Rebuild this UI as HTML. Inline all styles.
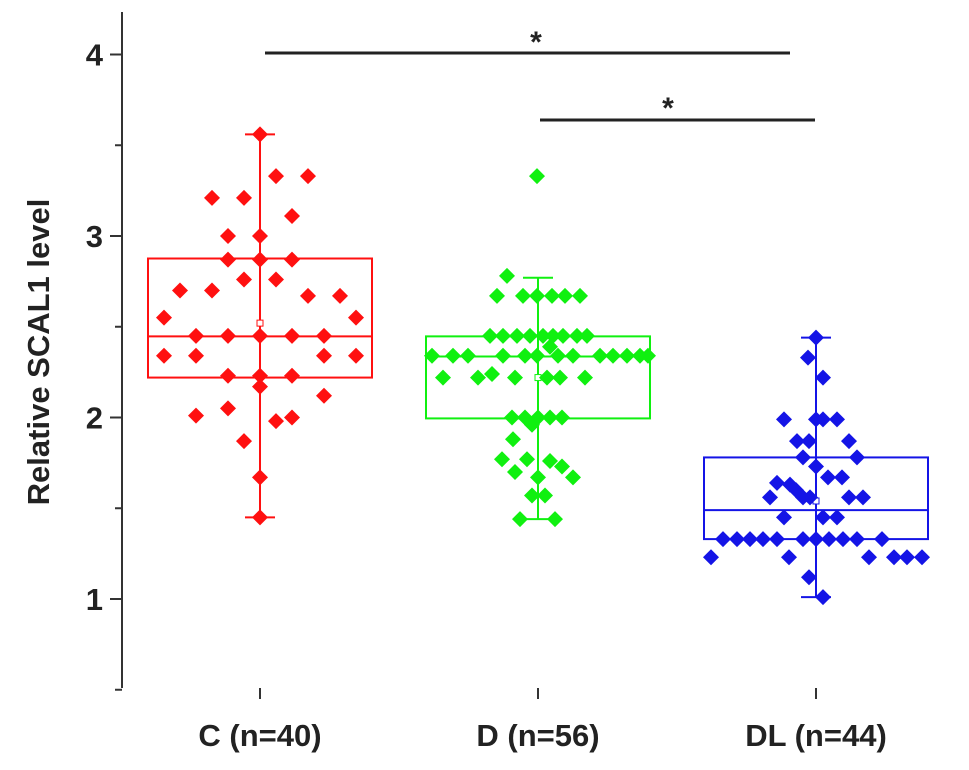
<!DOCTYPE html>
<html><head><meta charset="utf-8"><style>
body{margin:0;background:#fff;}
svg text{font-family:"Liberation Sans",Arial,sans-serif;font-weight:bold;fill:#222;}
</style></head><body>
<svg id="chart" width="969" height="765" viewBox="0 0 969 765" xmlns="http://www.w3.org/2000/svg">
<g id="axes"></g>
<g id="marks"></g>
<text x="0" y="0" transform="translate(49,352) rotate(-90)" text-anchor="middle" font-size="31">Relative SCAL1 level</text>
</svg>
<script>
const categories = ["C (n=40)", "D (n=56)", "DL (n=44)"];
const yTicks = [1, 2, 3, 4];
const yTickLabels = ["1", "2", "3", "4"];
const valsC = [3.56,3.33,3.33,3.21,3.21,3.11,3.0,3.0,2.87,2.87,2.87,2.76,2.76,2.70,2.70,2.67,2.67,2.55,2.55,2.45,2.45,2.45,2.45,2.45,2.34,2.34,2.34,2.34,2.23,2.23,2.23,2.17,2.12,2.01,2.05,1.98,2.0,1.87,1.67,1.45];
const jitC = [0,0.5,1.5,-1.5,-0.5,1,-1,0,-1,0,1,-0.5,0.5,-2.5,-1.5,1.5,2.5,-3,3,-2,-1,0,1,2,-3,-2,2,3,-1,0,1,0,2,-2,-1,0.5,1,-0.5,0,0];
const valsD = [3.33,2.78,2.67,2.67,2.67,2.67,2.67,2.67,2.45,2.45,2.45,2.45,2.45,2.45,2.45,2.45,2.39,2.34,2.34,2.34,2.34,2.34,2.34,2.34,2.34,2.34,2.34,2.34,2.34,2.22,2.22,2.24,2.22,2.22,2.22,2.22,2.0,2.0,2.0,2.0,1.96,1.88,1.77,1.77,1.76,1.73,1.67,1.70,1.67,1.57,1.57,1.44,1.44,2.34,2.45,2.0];
const jitD = [-1,-31,-41,-15,-1,14,27,42,-48,-35,-21,-8,5,25,39,49,12,-106,-85,-70,-35,-13,-1,35,62,75,89,102,110,-95,-60,-46,-23,9,22,47,-13,0,12,24,-6,-25,-36,-11,12,24,35,-23,0,-6,7,-18,17,20,15,-26];
const valsDL = [2.44,2.33,2.22,1.99,1.99,1.99,1.99,1.87,1.87,1.87,1.78,1.78,1.73,1.67,1.67,1.64,1.63,1.60,1.56,1.56,1.56,1.56,1.56,1.45,1.45,1.45,1.33,1.33,1.33,1.33,1.33,1.33,1.33,1.33,1.33,1.33,1.33,1.23,1.23,1.23,1.23,1.23,1.23,1.12,1.01];
const jitDL = [0,-8,7,-32,0,7,21,-19,-7,33,-13,41,0,12,26,-39,-26,-20,-46,-13,-6,33,47,-32,7,21,-93,-79,-66,-53,-39,-13,0,13,27,41,66,-105,-27,53,78,91,106,-7,7];
const boxQ1 = [2.22, 1.995, 1.33];
const boxMed = [2.447, 2.336, 1.49];
const boxQ3 = [2.876, 2.447, 1.78];
const whiskLo = [1.45, 1.44, 1.01];
const whiskHi = [3.56, 2.77, 2.44];
const means = [2.52, 2.22, 1.54];

const colors = ["#ff1010", "#10f010", "#1414e6"];
const groups = [[valsC, jitC, 32], [valsD, jitD, 1], [valsDL, jitDL, 1]];
const NS = "http://www.w3.org/2000/svg";
function y(v){ return 599 - (v - 1) * 181.5; }
function x(i){ return 260 + i * 278; }
function mk(tag, attrs, parent){ const e=document.createElementNS(NS,tag); for(const k in attrs) e.setAttribute(k, attrs[k]); parent.appendChild(e); return e; }
const axes=document.getElementById('axes'), marks=document.getElementById('marks');

let e = mk('line',{x1:122,y1:12,x2:122,y2:688,stroke:'#333','stroke-width':2},axes);


yTicks.forEach((t,i)=>{
  let tk = mk('line',{x1:110,y1:y(t),x2:122,y2:y(t),stroke:'#333','stroke-width':2},axes);
  
  
  let mn = mk('line',{x1:115,y1:y(t-0.5),x2:122,y2:y(t-0.5),stroke:'#333','stroke-width':2},axes);
  
  
  let lb = mk('text',{x:103,y:y(t)+11,'text-anchor':'end','font-size':31},axes);
  lb.textContent = yTickLabels[i];
  
  
});
categories.forEach((c,i)=>{
  let tk = mk('line',{x1:x(i),y1:688,x2:x(i),y2:699,stroke:'#333','stroke-width':2},axes);
  
  
  let lb = mk('text',{x:x(i),y:746,'text-anchor':'middle','font-size':31},axes);
  lb.textContent = c;
  
  
});

groups.forEach((g,i)=>{
  const col = colors[i], cx = x(i);
  let w = mk('line',{x1:cx,y1:y(whiskLo[i]),x2:cx,y2:y(whiskHi[i]),stroke:col,'stroke-width':2},marks);
  
  
  [whiskLo[i],whiskHi[i]].forEach(v=>{
    let c = mk('line',{x1:cx-15,y1:y(v),x2:cx+15,y2:y(v),stroke:col,'stroke-width':2},marks);
    
    
  });
  let b = mk('rect',{x:cx-112,y:y(boxQ3[i]),width:224,height:y(boxQ1[i])-y(boxQ3[i]),fill:'none',stroke:col,'stroke-width':2},marks);
  
  
  let m = mk('line',{x1:cx-112,y1:y(boxMed[i]),x2:cx+112,y2:y(boxMed[i]),stroke:col,'stroke-width':2},marks);
  
  
  let mean = mk('rect',{x:cx-3,y:y(means[i])-3,width:6,height:6,fill:'#fff',stroke:col,'stroke-width':1},marks);
  
  
  g[0].forEach((v,k)=>{
    const px = cx + g[1][k]*g[2], py = y(v);
    let d = mk('polygon',{points:`${px},${py-8} ${px+8},${py} ${px},${py+8} ${px-8},${py}`,fill:col},marks);
    
    
  });
});

let s1 = mk('line',{x1:265,y1:53,x2:790,y2:53,stroke:'#222','stroke-width':3},marks);


let t1 = mk('text',{x:536,y:52,'text-anchor':'middle','font-size':30},marks);
t1.textContent='*';


let s2 = mk('line',{x1:540,y1:120,x2:815,y2:120,stroke:'#222','stroke-width':3},marks);


let t2 = mk('text',{x:668,y:118,'text-anchor':'middle','font-size':30},marks);
t2.textContent='*';


</script>
</body></html>
